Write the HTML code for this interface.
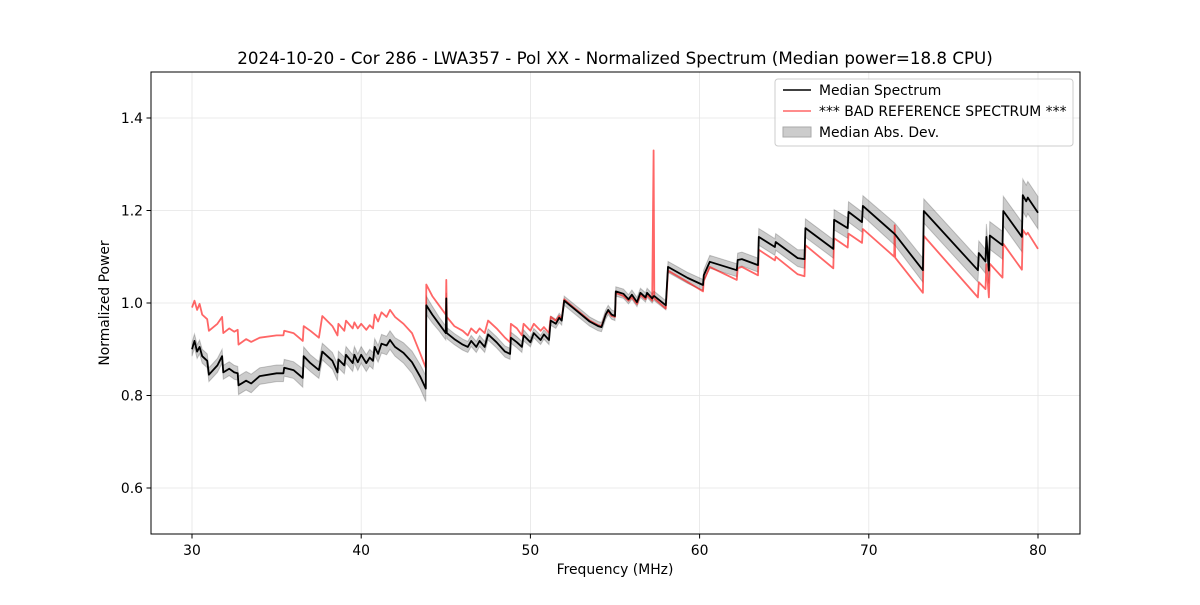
<!DOCTYPE html>
<html><head><meta charset="utf-8"><style>
body{margin:0;background:#fff;}
svg{font-family:"DejaVu Sans","Liberation Sans",sans-serif;}
</style></head><body>
<svg id="chart" width="1200" height="600" xmlns="http://www.w3.org/2000/svg">
<rect x="0" y="0" width="1200" height="600" fill="#fff"/>
<text x="615" y="64" text-anchor="middle" font-size="16.7">2024-10-20 - Cor 286 - LWA357 - Pol XX - Normalized Spectrum (Median power=18.8 CPU)</text>
<g id="grid"></g>
<g id="plot"></g>
<rect x="151" y="72" width="929" height="462" fill="none" stroke="#000" stroke-width="1"/>
<g id="xt"></g>
<g id="yt"></g>
<text x="615" y="574" text-anchor="middle" font-size="13.9">Frequency (MHz)</text>
<text x="109" y="303" text-anchor="middle" font-size="13.9" transform="rotate(-90 109 303)">Normalized Power</text>
<g>
<rect x="775" y="79" width="298" height="67" rx="3" fill="#fff" fill-opacity="0.8" stroke="#ccc"/>
<line x1="783" y1="90" x2="811" y2="90" stroke="#000" stroke-width="1.5"/>
<text x="819" y="95" font-size="13.9">Median Spectrum</text>
<line x1="783" y1="111" x2="811" y2="111" stroke="#ff6666" stroke-width="1.5"/>
<text x="819" y="116" font-size="13.9">*** BAD REFERENCE SPECTRUM ***</text>
<rect x="783" y="127" width="28" height="10" fill="#ccc" stroke="#aaa"/>
<text x="819" y="137" font-size="13.9">Median Abs. Dev.</text>
</g>
</svg>
<script>
const freqs=[30.0,30.15,30.3,30.45,30.6,30.9,31.0,31.5,31.78,31.85,32.2,32.5,32.7,32.75,33.2,33.5,34.0,35.0,35.4,35.45,36.0,36.55,36.6,37.0,37.5,37.7,38.3,38.6,38.65,39.0,39.1,39.5,39.6,39.8,40.0,40.3,40.5,40.7,40.8,41.0,41.2,41.5,41.7,42.0,42.5,43.0,43.5,43.82,43.85,44.2,44.6,45.0,45.03,45.06,45.5,46.0,46.3,46.5,46.8,47.0,47.3,47.5,48.0,48.5,48.8,48.85,49.2,49.5,49.6,50.0,50.2,50.6,50.8,51.1,51.2,51.5,51.7,51.85,52.0,52.5,53.0,53.5,54.0,54.2,54.45,54.6,54.8,55.0,55.05,55.5,55.8,56.0,56.3,56.5,56.8,56.9,57.2,57.28,57.32,58.0,58.13,59.3,60.2,60.25,60.6,62.2,62.25,62.5,63.45,63.5,64.45,64.5,65.8,66.2,66.25,67.9,67.95,68.75,68.8,69.6,69.65,71.5,71.53,71.56,73.2,73.25,76.45,76.5,76.9,76.95,77.1,77.15,77.9,77.95,79.05,79.1,79.3,79.4,80.0];
const median=[.900,.918,.895,.905,.885,.875,.845,.865,.885,.850,.858,.850,.848,.822,.832,.826,.842,.848,.848,.860,.855,.838,.885,.870,.855,.895,.875,.850,.878,.865,.888,.870,.888,.872,.888,.870,.882,.875,.905,.890,.912,.908,.920,.905,.892,.872,.840,.815,.995,.975,.955,.935,1.010,.935,.922,.910,.905,.918,.905,.918,.905,.932,.915,.895,.890,.925,.915,.905,.930,.915,.935,.920,.932,.920,.962,.955,.968,.962,1.005,.990,.975,.960,.950,.948,.975,.985,.975,.972,1.025,1.020,1.008,1.018,1.002,1.022,1.012,1.022,1.010,1.015,1.015,.995,1.078,1.054,1.039,1.060,1.089,1.071,1.093,1.095,1.082,1.143,1.121,1.132,1.097,1.095,1.162,1.117,1.180,1.162,1.197,1.175,1.210,1.150,1.149,1.148,1.071,1.199,1.071,1.108,1.090,1.143,1.070,1.146,1.125,1.199,1.143,1.233,1.220,1.228,1.195];
const reference=[.990,1.005,.985,.998,.975,.965,.940,.955,.970,.935,.945,.938,.942,.910,.922,.916,.925,.930,.930,.940,.935,.918,.950,.940,.925,.972,.950,.930,.955,.940,.962,.945,.958,.945,.955,.942,.952,.945,.975,.960,.980,.970,.985,.970,.955,.935,.890,.860,1.040,1.015,.995,.975,1.050,.970,.950,.940,.930,.945,.935,.945,.935,.962,.945,.925,.915,.955,.945,.930,.955,.940,.955,.940,.948,.935,.970,.962,.972,.965,1.008,.992,.977,.962,.952,.950,.975,.982,.972,.970,1.022,1.015,1.005,1.012,.998,1.018,1.008,1.018,1.005,1.330,1.010,.988,1.070,1.045,1.025,1.048,1.078,1.050,1.075,1.078,1.060,1.115,1.092,1.100,1.062,1.058,1.125,1.075,1.140,1.120,1.150,1.130,1.160,1.100,1.168,1.098,1.022,1.145,1.012,1.045,1.030,1.084,1.012,1.085,1.055,1.128,1.072,1.158,1.148,1.152,1.117];
const mad=[.015,.015,.015,.015,.015,.015,.015,.015,.015,.015,.015,.015,.015,.02,.02,.02,.018,.018,.018,.018,.018,.02,.02,.018,.018,.018,.018,.018,.018,.018,.018,.018,.018,.018,.018,.018,.018,.018,.018,.018,.02,.02,.02,.02,.022,.024,.026,.028,.02,.018,.015,.015,.012,.012,.012,.012,.012,.012,.012,.012,.012,.012,.012,.012,.012,.012,.012,.012,.012,.01,.01,.01,.01,.01,.01,.01,.01,.01,.01,.01,.01,.01,.01,.01,.01,.01,.01,.01,.01,.01,.01,.01,.01,.01,.01,.01,.01,.01,.01,.01,.012,.012,.012,.012,.014,.014,.015,.015,.015,.018,.018,.018,.018,.02,.02,.02,.022,.022,.022,.022,.022,.024,.024,.024,.026,.026,.026,.026,.026,.028,.028,.03,.03,.032,.032,.035,.035,.035,.035];
const xTicks=[30,40,50,60,70,80];
const yTicks=[0.6,0.8,1.0,1.2,1.4];
const xTickLabels=["30","40","50","60","70","80"];
const yTickLabels=["0.6","0.8","1.0","1.2","1.4"];
const X=f=>192+(f-30)*16.92;
const Y=v=>534.25-(v-0.5)*462.5;
const NS='http://www.w3.org/2000/svg';
function mk(tag,attrs,parent){const e=document.createElementNS(NS,tag);for(const k in attrs)e.setAttribute(k,attrs[k]);parent.appendChild(e);return e;}
const grid=document.getElementById('grid'),plot=document.getElementById('plot'),xt=document.getElementById('xt'),yt=document.getElementById('yt');
xTicks.forEach((t,i)=>{
 const g=mk('line',{x1:X(t),x2:X(t),y1:72,y2:534,stroke:'#e5e5e5','stroke-width':0.8},grid);
 
 
 const tk=mk('line',{x1:X(t),x2:X(t),y1:534,y2:538.5,stroke:'#000'},xt);
 
 
 const tx=mk('text',{x:X(t),y:555,'text-anchor':'middle','font-size':13.9},xt);
 tx.textContent=xTickLabels[i];
 
 
});
yTicks.forEach((t,i)=>{
 const g=mk('line',{x1:151,x2:1080,y1:Y(t),y2:Y(t),stroke:'#e5e5e5','stroke-width':0.8},grid);
 
 
 const tk=mk('line',{x1:146.5,x2:151,y1:Y(t),y2:Y(t),stroke:'#000'},yt);
 
 
 const tx=mk('text',{x:143,y:Y(t)+5,'text-anchor':'end','font-size':13.9},yt);
 tx.textContent=yTickLabels[i];
 
 
});
let up=freqs.map((f,i)=>X(f).toFixed(1)+','+Y(median[i]+mad[i]).toFixed(1));
let dn=freqs.map((f,i)=>X(f).toFixed(1)+','+Y(median[i]-mad[i]).toFixed(1)).reverse();
const band=mk('polygon',{points:up.concat(dn).join(' '),fill:'rgba(0,0,0,0.2)',stroke:'rgba(0,0,0,0.2)','stroke-width':1},plot);


const refL=mk('polyline',{points:freqs.map((f,i)=>X(f).toFixed(1)+','+Y(reference[i]).toFixed(1)).join(' '),fill:'none',stroke:'rgba(255,0,0,0.6)','stroke-width':1.8,'stroke-linejoin':'round'},plot);


const medL=mk('polyline',{points:freqs.map((f,i)=>X(f).toFixed(1)+','+Y(median[i]).toFixed(1)).join(' '),fill:'none',stroke:'#000','stroke-width':1.8,'stroke-linejoin':'round'},plot);


</script>
</body></html>
